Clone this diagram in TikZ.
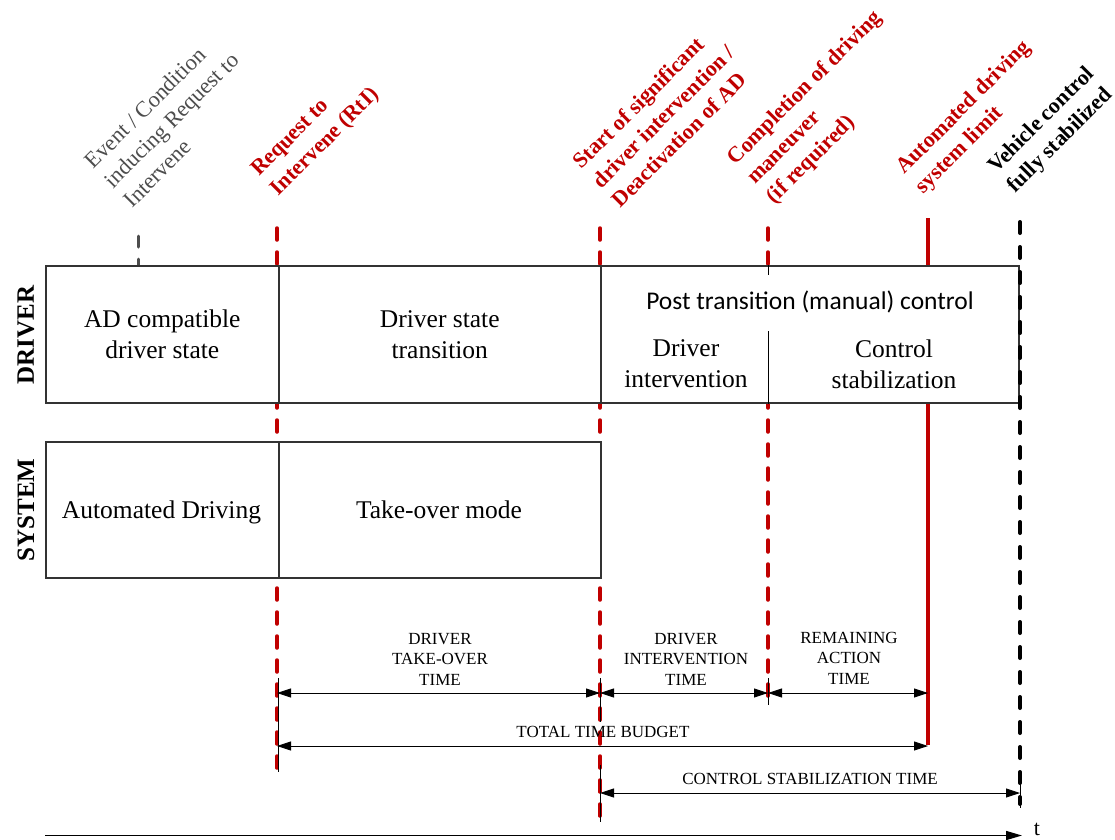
\documentclass[tikz,border=0pt]{standalone}
\usepackage{fontspec}
\setmainfont{Liberation Serif}
\newfontfamily\calfont{Carlito}
\usetikzlibrary{arrows.meta}
\definecolor{evred}{HTML}{C00000}
\definecolor{evgray}{HTML}{4D4D4D}
\begin{document}
\begin{tikzpicture}[x=1pt,y=1pt,
  boxtext/.style={font=\fontsize{25.5}{31}\selectfont, align=center, inner sep=0},
  cell/.style={draw=black!80, line width=1.6pt, fill=white, inner sep=0, anchor=north west,
    font=\fontsize{25.5}{31}\selectfont, align=center},
  lane/.style={font=\bfseries\fontsize{25}{30}\selectfont, rotate=90, inner sep=0},
  evlabel/.style={rotate=45, anchor=south west, align=left, inner sep=0,
    font=\bfseries\fontsize{22}{27.5}\selectfont, text=evred},
  redline/.style={evred, line width=3.5pt, line cap=round, dash pattern=on 12pt off 12pt},
  tick/.style={black, line width=0.8pt},
  dimtext/.style={font=\fontsize{17}{20.5}\selectfont, align=center, inner sep=0},
  dim/.style={line width=0.9pt, {Triangle[length=14pt,width=9pt]}-{Triangle[length=14pt,width=9pt]}},
  ]
\useasboundingbox (0,0) rectangle (1115,-839);

% event markers on the time line
\coordinate (ev-top)  at (138,-236);  \coordinate (ev-bot)  at (138,-265);
\coordinate (rti-top) at (277,-228);  \coordinate (rti-bot) at (277,-775);
\coordinate (sig-top) at (600,-228);  \coordinate (sig-bot) at (600,-816);
\coordinate (cmp-top) at (768,-228);  \coordinate (cmp-bot) at (768,-698);
\coordinate (lim-top) at (928,-218);  \coordinate (lim-bot) at (928,-745);
\coordinate (stb-top) at (1020,-222); \coordinate (stb-bot) at (1020,-804);

\draw[evgray, line width=3pt, line cap=round, dash pattern=on 11pt off 12pt] (ev-top) -- (ev-bot);
\draw[redline] (rti-top) -- (rti-bot);
\draw[redline] (sig-top) -- (sig-bot);
\draw[redline] (cmp-top) -- (cmp-bot);
\draw[evred, line width=3.5pt] (lim-top) -- (lim-bot);

% event labels
\node[evlabel, text=evgray, font=\fontsize{22.5}{27.5}\selectfont] (ev-lab) at (133,-209)
  {Event / Condition\\inducing Request to\\Intervene};
\node[evlabel] (rti-lab) at (282,-200) {Request to\\Intervene (RtI)};
\node[evlabel] (sig-lab) at (621,-209) {Start of significant\\driver intervention /\\Deactivation of AD};
\node[evlabel] (cmp-lab) at (778,-208) {Completion of driving\\maneuver\\(if required)};
\node[evlabel] (lim-lab) at (927,-198) {Automated driving\\system limit};
\node[evlabel, text=black] (stb-lab) at (1019,-197) {Vehicle control\\fully stabilized};

% lanes
\node[lane] (drv-lane) at (26,-335) {DRIVER};
\node[lane] (sys-lane) at (26,-510) {SYSTEM};

% driver lane cells
\node[cell, minimum width=233, minimum height=137] (adc) at (45,-265) {AD compatible\\driver state};
\node[cell, minimum width=322, minimum height=137] (dst) at (278,-265) {Driver state\\transition};
\node[cell, minimum width=418, minimum height=137] (post) at (600,-265) {};
\node[boxtext, font=\calfont\fontsize{25.5}{31}\selectfont] (post-t) at (810,-302) {Post transition (manual) control};
\node[boxtext] (dint) at (686,-364) {Driver\\intervention};
\node[boxtext] (cstab) at (894,-364) {Control\\stabilization};
\draw[black, line width=1pt] (post.north -| cmp-top) -- ++(0,-10);
\draw[black, line width=1pt] (post.south -| cmp-top) -- ++(0,73);

% system lane cells
\node[cell, minimum width=233, minimum height=136] (ad) at (45,-441) {};
\node[boxtext, anchor=base] (ad-t) at (161.5,-518) {Automated Driving};
\node[cell, minimum width=322, minimum height=136] (tom) at (278,-441) {};
\node[boxtext, anchor=base] (tom-t) at (439,-518) {Take-over mode};

% vehicle control stabilised marker
\draw[black, line width=4pt, line cap=round, dash pattern=on 11pt off 14pt] (stb-top) -- (stb-bot);

% extension ticks at the dimension ends
\draw[tick] (278,-678) -- (278,-772);
\draw[tick] (600,-678) -- (600,-722);
\draw[tick] (600,-765) -- (600,-822);
\draw[tick] (768,-678) -- (768,-705);
\draw[tick] (1020,-782) -- (1020,-808);

% durations
\coordinate (row1) at (0,-693);
\coordinate (row2) at (0,-746);
\coordinate (row3) at (0,-793);
\draw[dim] (rti-top |- row1) -- (sig-top |- row1);
\draw[dim] (sig-top |- row1) -- (cmp-top |- row1);
\draw[dim] (cmp-top |- row1) -- (lim-top |- row1);
\draw[dim] (rti-top |- row2) -- (lim-top |- row2);
\draw[dim] (sig-top |- row3) -- (stb-top |- row3);

\node[dimtext] (d1) at (440,-659) {DRIVER\\TAKE-OVER\\TIME};
\node[dimtext] (d2) at (686,-659) {DRIVER\\INTERVENTION\\TIME};
\node[dimtext] (d3) at (849,-658) {REMAINING\\ACTION\\TIME};
\node[dimtext] (d4) at (603,-732) {TOTAL TIME BUDGET};
\node[dimtext] (d5) at (810,-779) {CONTROL STABILIZATION TIME};

% time axis
\coordinate (t0) at (45,-835.5);
\coordinate (t1) at (1022,-835.5);
\draw[line width=1.6pt, -{Triangle[length=16pt,width=9pt]}] (t0) -- (t1);
\node[font=\fontsize{22}{26}\selectfont, inner sep=0] (tlab) at (1037,-829) {t};
\end{tikzpicture}
\end{document}
